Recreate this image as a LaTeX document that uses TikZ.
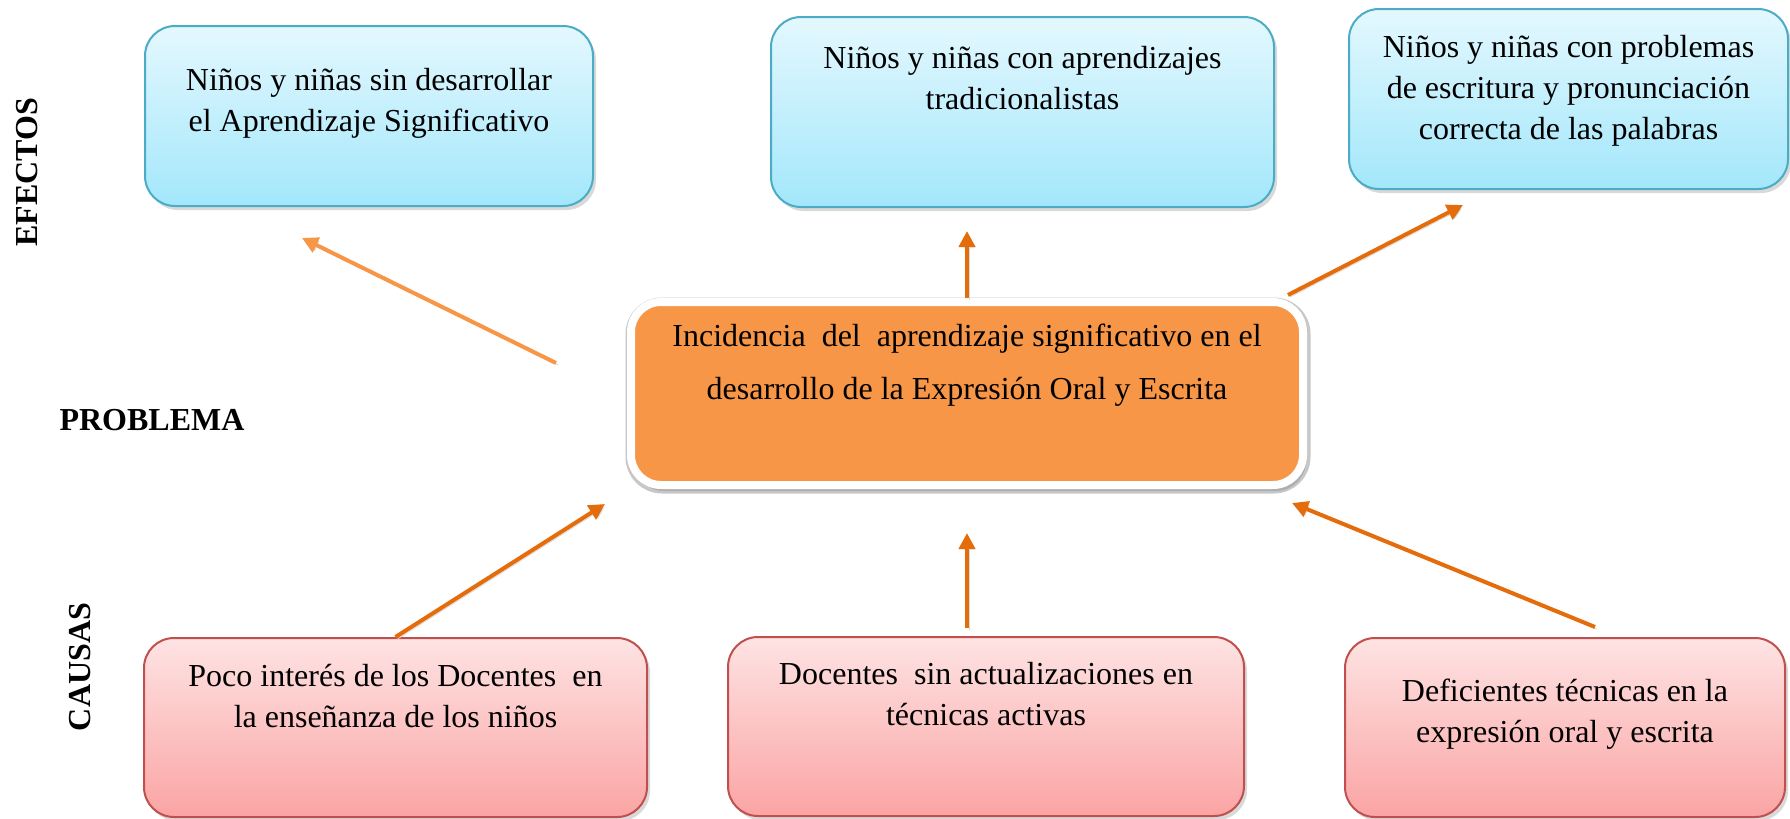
\documentclass[tikz,border=0pt]{standalone}
\usepackage{fontspec}
\setmainfont{Liberation Serif}
\usetikzlibrary{arrows.meta, calc, positioning, shadows}

\definecolor{azulclaro}{HTML}{E4F8FE}
\definecolor{azul}{HTML}{A3E7FB}
\definecolor{azulborde}{HTML}{4BACC6}
\definecolor{rosa}{HTML}{FEE3E3}
\definecolor{rojo}{HTML}{FBA4A4}
\definecolor{rojoborde}{HTML}{C0504D}
\definecolor{naranja}{HTML}{F79646}
\definecolor{naranjaosc}{HTML}{E46C0A}

\tikzset{
	caja/.style={rounded corners=15pt, line width=1pt, drop shadow={shadow xshift=1.5pt, shadow yshift=-2pt, opacity=.3}},
	efecto/.style={caja, draw=azulborde, top color=azulclaro, bottom color=azul},
	causa/.style={caja, draw=rojoborde, top color=rosa, bottom color=rojo},
	texto/.style={align=center, inner sep=0pt, font=\fontsize{16}{20.5}\selectfont},
	titulo/.style={inner sep=0pt, font=\fontsize{16}{19}\selectfont\bfseries},
	flecha/.style={-{Triangle[length=8pt,width=8pt]}, line width=2pt, draw=naranjaosc,
		preaction={draw=black!15, transform canvas={xshift=1pt, yshift=-1pt}}},
}

\begin{document}
\begin{tikzpicture}[x=0.5pt, y=-0.5pt]
		\useasboundingbox (0,0) rectangle (1790,819);

		% efectos
		\node[efecto, minimum width=224pt, minimum height=90pt] (e1) at (369,116) {};
		\node[efecto, minimum width=251.5pt, minimum height=95pt] (e2) at (1022.5,112) {};
		\node[efecto, minimum width=219.5pt, minimum height=90pt] (e3) at (1568.5,99) {};
		\node[texto] (e1t) at ($(e1)+(0,-13)$) {Niños y niñas sin desarrollar\\el Aprendizaje Significativo};
		\node[texto] (e2t) at ($(e2)+(0,-34)$) {Niños y niñas con aprendizajes\\tradicionalistas};
		\node[texto] (e3t) at ($(e3)+(0,-8)$) {Niños y niñas con problemas\\de escritura y pronunciación\\correcta de las palabras};

		% problema
		\node[draw=white, line width=4pt, fill=naranja, rounded corners=15pt,
			preaction={draw=black!22, line width=6.5pt, transform canvas={xshift=0.5pt, yshift=-1pt}},
			drop shadow={shadow xshift=1.5pt, shadow yshift=-3pt, opacity=.35},
			minimum width=336pt, minimum height=91.5pt] (prob) at (967,393.5) {};
		\node[texto, font=\fontsize{16}{26.5}\selectfont] (probt) at ($(prob)+(0,-28)$) {Incidencia\ \ del\ \ aprendizaje significativo en el\\desarrollo de la Expresión Oral y Escrita};

		% causas
		\node[causa, minimum width=251.5pt, minimum height=89.5pt] (c1) at (395.5,727.5) {};
		\node[causa, minimum width=258pt, minimum height=89.5pt] (c2) at (986,726.5) {};
		\node[causa, minimum width=220pt, minimum height=89.5pt] (c3) at (1565,727.5) {};
		\node[texto] (c1t) at ($(c1)+(0,-31)$) {Poco interés de los Docentes\ \ en\\la enseñanza de los niños};
		\node[texto] (c2t) at ($(c2)+(0,-32)$) {Docentes\ \ sin actualizaciones en\\técnicas activas};
		\node[texto] (c3t) at ($(c3)+(0,-13)$) {Deficientes técnicas en la\\expresión oral y escrita};

		% rotulos
		\node[titulo, rotate=90] (efectos) at (27,172) {EFECTOS};
		\node[titulo] (problema) at (152,420) {PROBLEMA};
		\node[titulo, rotate=90] (causas) at (80,667) {CAUSAS};

		% flechas
		\coordinate (s1) at (556,363);
		\coordinate (t1) at (302,238);
		\coordinate (s3) at (1288,295);
		\coordinate (t3) at (1463,205);
		\coordinate (t4) at (605,504);
		\coordinate (s6) at (1595,627);
		\coordinate (t6) at (1292,503);
		\draw[flecha, draw=naranja] (s1) -- (t1);
		\draw[flecha, shorten >=11.5pt] (prob.north) -- (prob.north |- e2.south);
		\draw[flecha] (s3) -- (t3);
		\draw[flecha] (c1.north) -- (t4);
		\draw[flecha, shorten <=4pt, shorten >=22pt] (prob.south |- c2.north) -- (prob.south);
		\draw[flecha] (s6) -- (t6);
	\end{tikzpicture}
\end{document}
